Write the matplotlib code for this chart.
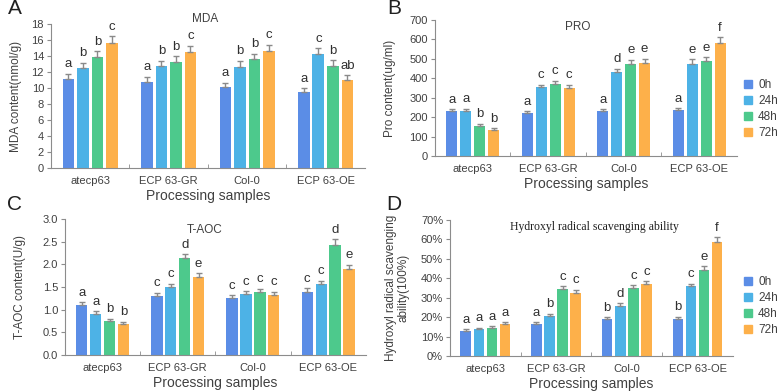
import matplotlib
matplotlib.use("Agg")
import matplotlib.pyplot as plt
import numpy as np
from matplotlib.ticker import FixedLocator, PercentFormatter

plt.rcParams['font.family'] = ['Liberation Sans', 'DejaVu Sans']

samples = ["atecp63", "ECP 63-GR", "Col-0", "ECP 63-OE"]
times = ["0h", "24h", "48h", "72h"]
colors = ["#5B8DE6", "#4DB2E6", "#4DC98C", "#FDB04A"]

# rows = time points, columns = samples
mda = [[11.2, 10.8, 10.2, 9.5],
       [12.5, 12.8, 12.7, 14.3],
       [13.9, 13.3, 13.6, 12.8],
       [15.7, 14.5, 14.6, 11.0]]
mda_err = [[0.6, 0.6, 0.5, 0.5],
           [0.7, 0.6, 0.7, 0.7],
           [0.7, 0.7, 0.7, 0.7],
           [0.8, 0.8, 0.8, 0.6]]
mda_letters = [["a", "a", "a", "a"],
               ["b", "b", "b", "c"],
               ["b", "b", "b", "b"],
               ["c", "c", "c", "ab"]]

pro = [[232, 222, 232, 235],
       [232, 353, 432, 473],
       [157, 373, 475, 488],
       [135, 352, 480, 583]]
pro_err = [[10, 10, 10, 12],
           [12, 15, 18, 25],
           [10, 15, 20, 22],
           [8, 15, 20, 28]]
pro_letters = [["a", "a", "a", "a"],
               ["a", "c", "d", "e"],
               ["b", "c", "e", "e"],
               ["b", "c", "e", "f"]]

taoc = [[1.10, 1.30, 1.26, 1.39],
        [0.90, 1.49, 1.34, 1.56],
        [0.76, 2.13, 1.39, 2.43],
        [0.69, 1.73, 1.33, 1.89]]
taoc_err = [[0.07, 0.07, 0.06, 0.08],
            [0.07, 0.08, 0.07, 0.08],
            [0.04, 0.09, 0.07, 0.13],
            [0.04, 0.07, 0.07, 0.10]]
taoc_letters = [["a", "c", "c", "c"],
                ["a", "c", "c", "c"],
                ["b", "d", "c", "d"],
                ["b", "e", "c", "e"]]

hrs = [[13.0, 16.5, 19.0, 19.0],
       [13.7, 20.5, 25.8, 35.8],
       [14.3, 34.3, 35.0, 44.3],
       [16.3, 32.3, 37.0, 58.8]]
hrs_err = [[0.8, 1.0, 1.0, 1.2],
           [0.8, 1.2, 1.5, 1.5],
           [0.9, 1.5, 1.5, 2.0],
           [1.0, 1.8, 1.5, 2.5]]
hrs_letters = [["a", "a", "b", "b"],
               ["a", "b", "d", "c"],
               ["a", "c", "c", "e"],
               ["a", "c", "c", "f"]]

fig = plt.figure(figsize=(7.77, 3.91), dpi=100)

spine_col = "#8c8c8c"
txt_col = "#404040"


def panel(rect, data, err, letters, ymax, ystep, title, title_xy, ylabel,
          letter, letter_xy, legend=None, pct=False, title_font=None, lpad=0.0):
    ax = fig.add_axes(rect)
    x = np.arange(len(samples))
    w = 0.15
    step = 0.185
    for i, t in enumerate(times):
        xs = x + (i - 1.5) * step
        vals = np.array(data[i])
        e = np.array(err[i])
        ax.bar(xs, vals, width=w, color=colors[i], label=t, zorder=2)
        ax.errorbar(xs, vals, yerr=[np.zeros_like(e), e], fmt="none",
                    ecolor="#8a8a8a", elinewidth=1.0, capsize=2.2, capthick=1.0, zorder=3)
        for xx, v, ee, lab in zip(xs, vals, e, letters[i]):
            ax.text(xx, v + ee + ymax * 0.025, lab, ha="center", va="bottom",
                    fontsize=9.5, color="#303030")
    ax.set_xlim(-0.5, 3.5)
    ax.set_ylim(0, ymax)
    ax.set_yticks(np.arange(0, ymax + ystep / 2, ystep))
    if pct:
        ax.yaxis.set_major_formatter(PercentFormatter(decimals=0))
    ax.set_xticks(x)
    ax.set_xticklabels(samples, fontsize=8, color=txt_col)
    ax.xaxis.set_minor_locator(FixedLocator([0.5, 1.5, 2.5]))
    ax.tick_params(axis="x", which="major", length=0, pad=6)
    ax.tick_params(axis="x", which="minor", length=3, color=spine_col, direction="in")
    ax.tick_params(axis="y", length=3, color=spine_col, labelsize=8, labelcolor=txt_col, pad=2)
    for s in ["top", "right"]:
        ax.spines[s].set_visible(False)
    for s in ["left", "bottom"]:
        ax.spines[s].set_color(spine_col)
    ax.set_xlabel("Processing samples", fontsize=10, color=txt_col, labelpad=2)
    ax.set_ylabel(ylabel, fontsize=8.5, color=txt_col, labelpad=lpad, linespacing=1.1)
    if title_font:
        fig.text(title_xy[0] / 777, 1 - title_xy[1] / 391, title, ha="center", va="center",
                 fontsize=8.5, color="#202020", family=title_font)
    else:
        fig.text(title_xy[0] / 777, 1 - title_xy[1] / 391, title, ha="center", va="center",
                 fontsize=8.5, color=txt_col)
    fig.text(letter_xy[0] / 777, 1 - letter_xy[1] / 391, letter, ha="center", va="center",
             fontsize=15, color="#202020")
    if legend:
        handles = [plt.Rectangle((0, 0), 1, 1, color=c) for c in colors]
        fig.legend(handles, times, loc="center left",
                   bbox_to_anchor=(legend[0] / 777, 1 - legend[1] / 391),
                   frameon=False, fontsize=8.5, handlelength=0.7, handleheight=0.7,
                   handletextpad=0.5, labelspacing=0.35, borderpad=0, labelcolor=txt_col)
    return ax


panel([0.0656, 0.570, 0.404, 0.3683], mda, mda_err, mda_letters, 18, 2, "MDA",
      (205, 19), "MDA content(nmol/g)", "A", (15, 9), lpad=7)
panel([0.5598, 0.601, 0.3887, 0.3478], pro, pro_err, pro_letters, 700, 100, "PRO",
      (578, 27), "Pro content(ug/ml)", "B", (394, 9), legend=(738, 109), lpad=10)
panel([0.0837, 0.0921, 0.387, 0.3478], taoc, taoc_err, taoc_letters, 3, 0.5, "T-AOC",
      (205, 230), "T-AOC content(U/g)", "C", (15, 205), lpad=12)
panel([0.5792, 0.0895, 0.364, 0.3478], hrs, hrs_err, hrs_letters, 70, 10,
      "Hydroxyl radical scavenging ability", (594, 227),
      "Hydroxyl radical scavenging\nability(100%)", "D", (394, 205),
      legend=(738, 306), pct=True, title_font=["Liberation Serif", "DejaVu Serif"], lpad=8)

fig.savefig("out.png", dpi=100)
